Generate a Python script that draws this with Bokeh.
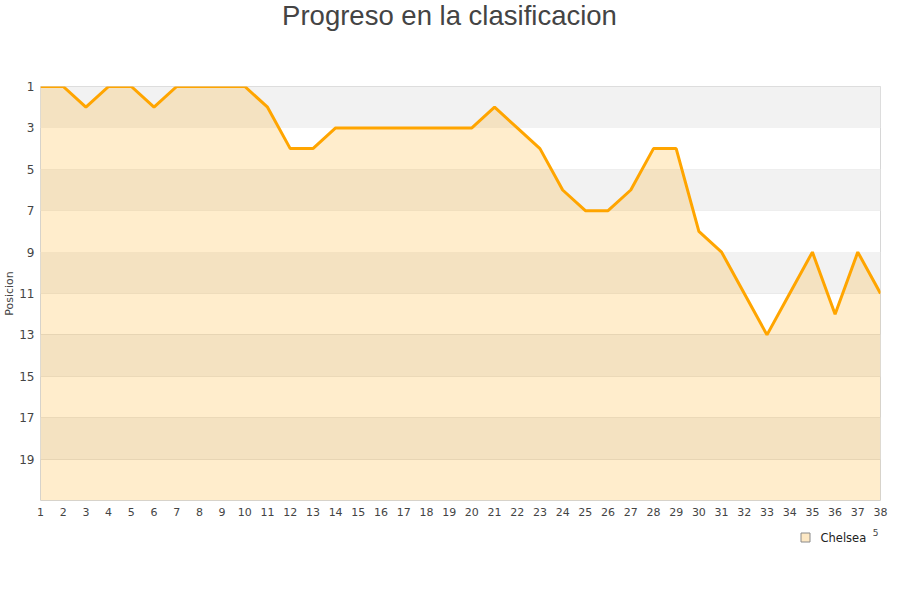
from bokeh.plotting import figure
from bokeh.layouts import column
from bokeh.models import Range1d, BoxAnnotation, FixedTicker, ColumnDataSource
from bokeh.core.properties import value
from bokeh.embed import file_html
from bokeh.resources import INLINE

jornadas = list(range(1, 39))
posiciones = [1, 1, 2, 1, 1, 2, 1, 1, 1, 1, 2, 4, 4, 3, 3, 3, 3, 3, 3, 3,
              2, 3, 4, 6, 7, 7, 6, 4, 4, 8, 9, 11, 13, 11, 9, 12, 9, 11]
equipo = "Chelsea"
titulo = "Progreso en la clasificacion"
eje_y = "Posicion"
y_ticks = [1, 3, 5, 7, 9, 11, 13, 15, 17, 19]
bandas = [(1, 3), (5, 7), (9, 11), (13, 15), (17, 19)]
fondo = 21

W = 900
FL, FR = 40, 880   # frame left / right in page pixels (column aligns frames)


def blank(h):
    f = figure(width=W, height=h, output_backend="svg", toolbar_location=None,
               x_range=Range1d(FL, FR), y_range=Range1d(h, 0),
               x_axis_type=None, y_axis_type=None,
               min_border_left=FL, min_border_right=W - FR,
               min_border_top=0, min_border_bottom=0)
    f.outline_line_color = None
    f.xgrid.visible = False
    f.ygrid.visible = False
    f.background_fill_color = "white"
    f.border_fill_color = "white"
    return f


# ---- title strip ----
top = blank(60)
top.text(x=[449], y=[15], text=[titulo], text_align="center", text_baseline="middle",
         text_font=value("Liberation Sans"), text_font_size="27.5px", text_color="#444444")

# ---- main chart ----
src = ColumnDataSource(dict(x=jornadas, y=posiciones, base=[fondo] * len(jornadas)))

p = figure(width=W, height=462, output_backend="svg", toolbar_location=None,
           x_range=Range1d(1, 38), y_range=Range1d(fondo, 1),
           min_border_left=FL, min_border_right=W - FR, min_border_top=26, min_border_bottom=22)
p.background_fill_color = "white"
p.border_fill_color = "white"
p.outline_line_color = "#d6d6d6"
p.outline_line_width = 1

for a, b in bandas:
    p.add_layout(BoxAnnotation(bottom=a, top=b, fill_color="#f2f2f2", fill_alpha=1.0,
                               line_color=None, level="underlay"))

p.xgrid.visible = False
p.ygrid.ticker = FixedTicker(ticks=y_ticks)
p.ygrid.grid_line_color = "#e2e2e2"
p.ygrid.grid_line_width = 1

p.varea(x="x", y1="y", y2="base", source=src, fill_color="#ffa500", fill_alpha=0.2)
p.line(x="x", y="y", source=src, line_color="#ffa500", line_width=3)

p.yaxis.ticker = FixedTicker(ticks=y_ticks)
p.xaxis.ticker = FixedTicker(ticks=jornadas)
for ax in (p.xaxis[0], p.yaxis[0]):
    ax.axis_line_color = None
    ax.major_tick_line_color = None
    ax.minor_tick_line_color = None
    ax.major_tick_out = 0
    ax.major_tick_in = 0
    ax.minor_tick_out = 0
    ax.major_label_text_color = "#444444"
    ax.major_label_text_font = "DejaVu Sans"
p.xaxis.major_label_text_font_size = "11px"
p.yaxis.major_label_text_font_size = "12px"
p.xaxis.major_label_standoff = 7
p.yaxis.major_label_standoff = 6
p.yaxis.axis_label = eje_y
p.yaxis.axis_label_text_font = "DejaVu Sans"
p.yaxis.axis_label_text_font_size = "11px"
p.yaxis.axis_label_text_font_style = "normal"
p.yaxis.axis_label_text_color = "#444444"
p.yaxis.axis_label_standoff = 0

# ---- legend strip (starts at page y = 522) ----
bot = blank(78)
bot.scatter(x=[805], y=[15], marker="square", size=9, fill_color="#fde8c4",
            line_color="#8a8a8a", line_width=1)
bot.text(x=[820], y=[15], text=[equipo], text_align="left", text_baseline="middle",
         text_font=value("DejaVu Sans"), text_font_size="11.5px", text_color="#222222")
bot.text(x=[875], y=[10], text=["5"], text_align="center", text_baseline="middle",
         text_font=value("DejaVu Sans"), text_font_size="9px", text_color="#444444")

layout = column(top, p, bot, spacing=0)
open("out.html", "w").write(file_html(layout, INLINE))
